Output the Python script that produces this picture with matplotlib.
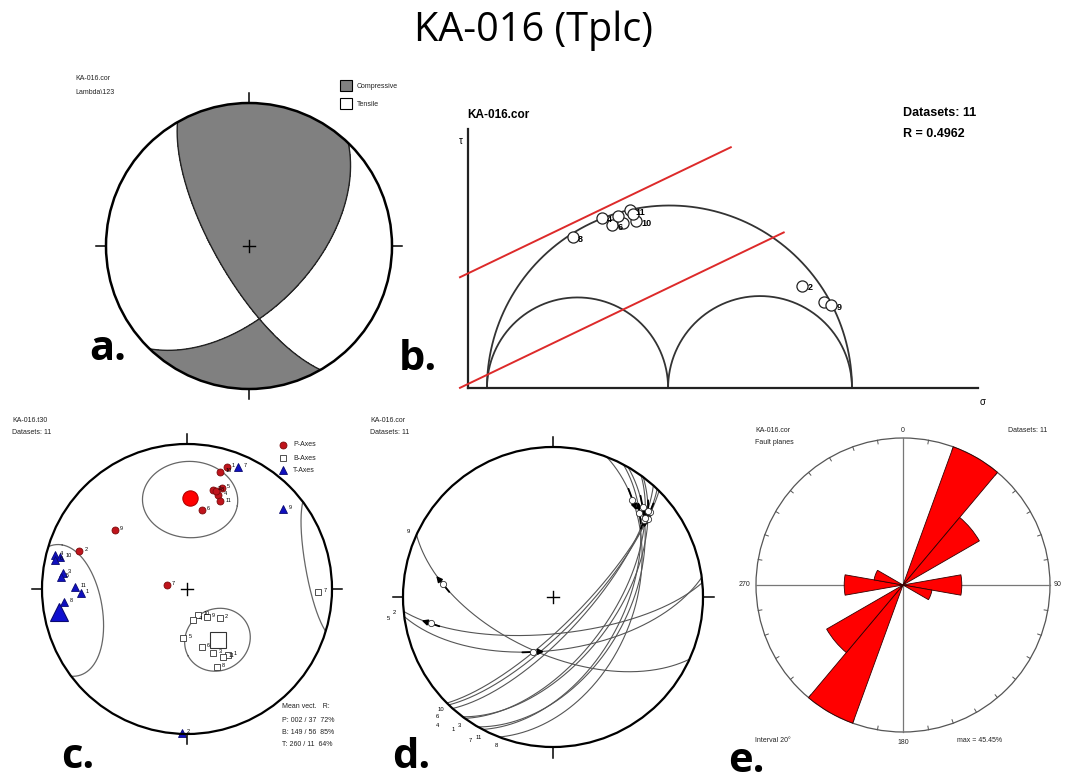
import numpy as np
import matplotlib
matplotlib.use("Agg")
import matplotlib.pyplot as plt
from matplotlib.patches import Circle, Wedge, Rectangle

W, H = 1066, 781
plt.rcParams['font.family'] = ['Liberation Sans', 'DejaVu Sans']

# a. right dihedra: nodal planes (dip direction / dip)
nodal_dipdir = [240, 134]
nodal_dip = [71, 54]

# b. Mohr circle (normalised stresses) and points of the fault planes
sigma_3, stress_ratio, sigma_1 = 0.052, 0.4962, 1.052
mohr_sigma = [0.288, 0.366, 0.395, 0.425, 0.444, 0.460, 0.410, 0.452, 0.916, 0.975, 0.995]
mohr_tau = [0.414, 0.467, 0.447, 0.452, 0.488, 0.458, 0.470, 0.478, 0.280, 0.236, 0.227]
mohr_labels = ['8', '4', '6', '', '11', '10', '', '', '2', '', '9']
friction = 0.48
envelope_cohesion = [0.314, 0.011]
envelope_end = [0.72, 0.865]

# c. P, B, T axes (trend / plunge)
p_trend = [18.0, 15.8, 14.5, 19.0, 18.4, 20.7, 16.4, 10.5, 309.3, 289.4, 281.0]
p_plunge = [12.6, 17.2, 30.2, 27.5, 32.2, 35.7, 30.0, 43.9, 36.0, 22.2, 78.4]
p_labels = ['1', '10', '3', '5', '4', '11', '8', '6', '9', '2', '7']
b_trend = [156.4, 131.5, 168.4, 184.2, 165.8, 157.8, 147.9, 152.0, 159.0, 91.1, 144.5]
b_plunge = [74.1, 65.1, 72.3, 62.1, 56.3, 50.4, 45.4, 45.6, 42.2, 10.3, 71.0]
b_labels = ['10', '2', '4', '5', '6', '3', '1', '11', '8', '7', '9']
t_trend = [284.4, 284.3, 282.4, 277.2, 275.6, 271.2, 267.7, 264.1, 50.4, 22.8, 182.1]
t_plunge = [6.7, 10.7, 7.6, 14.7, 13.5, 23.8, 27.4, 16.0, 14.8, 9.5, 1.0]
t_labels = ['4', '10', '6', '3', '5', '11', '1', '8', '9', '7', '2']
axis_names = ['P', 'B', 'T']
mean_trend = [2, 149, 260]
mean_plunge = [37, 56, 11]
mean_R = [72, 85, 64]
cone_angle = [24, 18, 29]

# d. fault planes (right-hand strike / dip) with striae (rake from strike)
fault_labels = ['10', '6', '4', '3', '1', '11', '7', '8', '2', '5', '9']
fault_strike = [45, 44, 42, 36, 37, 28, 30, 21, 84.5, 82.5, 114.5]
fault_dip = [75, 73, 71, 58, 56, 51, 49, 45, 70, 61, 59]
fault_rake = [20, 16, 23, 24, 19, 27, 22, 25, 161, 104, 148]
fault_sense = [1, 1, -1, 1, 1, -1, 1, 1, 1, -1, 1]

# e. rose of strikes
rose_interval = 20


def sind(a):
    return np.sin(np.radians(a))


def cosd(a):
    return np.cos(np.radians(a))


def line_vec(trend, plunge):
    t, p = np.radians(trend), np.radians(plunge)
    return np.stack([np.cos(p) * np.sin(t), np.cos(p) * np.cos(t), -np.sin(p)], axis=-1)


def project(v):
    # lower hemisphere equal-area (Schmidt) projection
    v = np.array(v, float)
    v = np.where(v[..., 2:3] > 0, -v, v)
    s = np.sqrt(1 - v[..., 2])
    return v[..., 0] / s, v[..., 1] / s


def plane_vectors(strike, dip):
    s = np.array([sind(strike), cosd(strike), 0.0])
    d = np.array([cosd(dip) * sind(strike + 90), cosd(dip) * cosd(strike + 90), -sind(dip)])
    return s, d


def great_circle(strike, dip, n=200):
    s, d = plane_vectors(strike, dip)
    phi = np.linspace(0, np.pi, n)
    v = np.outer(np.cos(phi), s) + np.outer(np.sin(phi), d)
    return project(v)


def small_circle(trend, plunge, alpha, n=400):
    a = line_vec(trend, plunge)
    u = np.cross(a, [0, 0, 1.0])
    u /= np.linalg.norm(u)
    w = np.cross(a, u)
    t = np.linspace(0, 2 * np.pi, n)
    v = cosd(alpha) * a + sind(alpha) * (np.outer(np.cos(t), u) + np.outer(np.sin(t), w))
    up = v[:, 2] > 0
    x, y = project(v)
    cut = np.where(np.diff(up))[0] + 1
    return np.insert(x, cut, np.nan), np.insert(y, cut, np.nan)


fig = plt.figure(figsize=(W / 100, H / 100), dpi=100)
bg = fig.add_axes([0, 0, 1, 1])
bg.set_xlim(0, W)
bg.set_ylim(H, 0)
bg.axis('off')


def unit_axes(ox, oy, scale, x0, x1, y0, y1):
    ax = fig.add_axes([(ox + x0 * scale) / W, 1 - (oy - y0 * scale) / H,
                       (x1 - x0) * scale / W, (y1 - y0) * scale / H])
    ax.set_xlim(x0, x1)
    ax.set_ylim(y0, y1)
    ax.axis('off')
    return ax


def stereo_axes(cx, cy, R, ext=1.25):
    return unit_axes(cx, cy, R, -ext, ext, -ext, ext)


def stereo_frame(ax, lw=1.6, cross=True):
    ax.add_patch(Circle((0, 0), 1, fill=False, lw=lw, ec='k', zorder=6))
    for a in (0, 90, 180, 270):
        ax.plot([sind(a), 1.07 * sind(a)], [cosd(a), 1.07 * cosd(a)], color='k', lw=1.1, zorder=6)
    if cross:
        ax.plot([-0.04, 0.04], [0, 0], color='k', lw=1.0, zorder=6)
        ax.plot([0, 0], [-0.04, 0.04], color='k', lw=1.0, zorder=6)


small = dict(fontsize=5, va='center', color='#222222')

bg.text(534, 31, 'KA-016 (Tplc)', fontsize=28.5, ha='center', va='center',
        family=['Open Sans', 'DejaVu Sans'])
for lab, x, y in [('a.', 108, 350), ('b.', 418, 360), ('c.', 78, 757), ('d.', 411, 757), ('e.', 746, 762)]:
    bg.text(x, y, lab, fontsize=30, fontweight='bold', ha='center', va='center',
            family=['Open Sans', 'DejaVu Sans'])

# ---------------- a. right dihedra ----------------
axa = stereo_axes(249, 246, 143)
g = np.linspace(-1.0, 1.0, 701)
X, Y = np.meshgrid(g, g)
r2 = X ** 2 + Y ** 2
k = np.sqrt(np.clip(2 - r2, 0, None))
V = np.stack([X * k, Y * k, r2 - 1], axis=-1)
field = np.ones_like(X)
for dd, dp in zip(nodal_dipdir, nodal_dip):
    n = np.array([sind(dp) * sind(dd), sind(dp) * cosd(dd), cosd(dp)])
    field = field * (V @ n)
field[r2 > 1] = np.nan
cs = axa.contourf(X, Y, field, levels=[-10, 0, 10], colors=['white', '#808080'])
cs.set_clip_path(Circle((0, 0), 1, transform=axa.transData))
for dd, dp in zip(nodal_dipdir, nodal_dip):
    x, y = great_circle(dd - 90, dp)
    axa.plot(x, y, color='#222222', lw=1.0)
stereo_frame(axa, lw=1.8)
bg.text(75, 78, 'KA-016.cor', **small)
bg.text(75, 92, 'Lambda\\123', **small)
bg.add_patch(Rectangle((340, 80), 12, 11, fc='#808080', ec='k', lw=0.8))
bg.add_patch(Rectangle((340, 98), 12, 11, fc='white', ec='k', lw=0.8))
bg.text(357, 86, 'Compressive', **small)
bg.text(357, 104, 'Tensile', **small)

# ---------------- b. Mohr circle ----------------
axb = unit_axes(468, 388, 365, -0.1, 1.45, -0.08, 0.76)
sigma_2 = sigma_3 + stress_ratio * (sigma_1 - sigma_3)
th = np.linspace(0, np.pi, 300)
for lo, hi in [(sigma_3, sigma_1), (sigma_3, sigma_2), (sigma_2, sigma_1)]:
    c, rad = (lo + hi) / 2, (hi - lo) / 2
    axb.plot(c + rad * np.cos(th), rad * np.sin(th), color='#333333', lw=1.3)
axb.plot([0, 0], [0, 0.71], color='#222222', lw=1.6)
axb.plot([0, 1.397], [0, 0], color='#222222', lw=1.6)
for c0, s_end in zip(envelope_cohesion, envelope_end):
    s = np.array([-0.022, s_end])
    axb.plot(s, friction * s + c0, color='#dd2a2a', lw=1.4)
axb.plot(mohr_sigma, mohr_tau, 'o', ms=8, mfc='white', mec='#222222', mew=0.9)
for s, t, lab in zip(mohr_sigma, mohr_tau, mohr_labels):
    axb.text(s + 0.014, t - 0.006, lab, fontsize=6.5, fontweight='bold', va='center')
bg.text(467, 115, 'KA-016.cor', fontsize=8.5, fontweight='bold', va='center')
bg.text(903, 113, 'Datasets: 11', fontsize=9, fontweight='bold', va='center')
bg.text(903, 134, 'R = %.4f' % stress_ratio, fontsize=9, fontweight='bold', va='center')
bg.text(461, 141, '\u03c4', fontsize=7, va='center', ha='center')
bg.text(983, 402, '\u03c3', fontsize=7, va='center', ha='center')

# ---------------- c. P B T axes ----------------
axc = stereo_axes(187, 589, 145)
styles = [dict(marker='o', mfc='#c0141c', mec='#7a0a0a', ms=5),
          dict(marker='s', mfc='white', mec='#333333', ms=5),
          dict(marker='^', mfc='#1010c0', mec='#0a0a70', ms=6)]
big = [dict(marker='o', mfc='#ff0000', mec='#b00000', ms=11),
       dict(marker='s', mfc='white', mec='#333333', ms=11),
       dict(marker='^', mfc='#1010d0', mec='#0a0a70', ms=13)]
for tr, pl, labs, st in zip([p_trend, b_trend, t_trend], [p_plunge, b_plunge, t_plunge],
                            [p_labels, b_labels, t_labels], styles):
    x, y = project(line_vec(np.array(tr), np.array(pl)))
    axc.plot(x, y, ls='none', mew=0.6, zorder=4, **st)
    for xi, yi, lab in zip(x, y, labs):
        axc.text(xi + 0.035, yi + 0.01, lab, fontsize=4, va='center', zorder=4)
for i in range(3):
    x, y = project(line_vec(mean_trend[i], mean_plunge[i]))
    axc.plot(x, y, ls='none', mew=0.8, zorder=5, **big[i])
    cx, cy = small_circle(mean_trend[i], mean_plunge[i], cone_angle[i])
    axc.plot(cx, cy, color='#666666', lw=0.9, zorder=3)
stereo_frame(axc)
bg.text(12, 421, 'KA-016.t30', **small)
bg.text(12, 433, 'Datasets: 11', **small)
for i, (nm, y) in enumerate(zip(axis_names, [445, 458, 470])):
    bg.plot(283, y, ls='none', mew=0.6, **styles[i])
    bg.text(293, y, nm + '-Axes', **small)
bg.text(282, 707, 'Mean vect.   R:', **small)
for i in range(3):
    bg.text(282, 720 + 12.5 * i, '%s: %03d / %02d  %d%%' % (axis_names[i], mean_trend[i],
                                                         mean_plunge[i], mean_R[i]), **small)

# ---------------- d. fault planes with striae ----------------
axd = stereo_axes(553, 597, 150)
used = []
for lab, stk, dp, rk, sn in zip(fault_labels, fault_strike, fault_dip, fault_rake, fault_sense):
    x, y = great_circle(stk, dp)
    axd.plot(x, y, color='#555555', lw=0.8)
    s, d = plane_vectors(stk, dp)
    v = cosd(rk) * s + sind(rk) * d
    n = np.cross(s, d)
    t = np.cross(n, v)
    t /= np.linalg.norm(t)
    p0 = project(v - 0.10 * t * sn)
    p1 = project(v + 0.10 * t * sn)
    axd.annotate('', xy=p1, xytext=p0,
                 arrowprops=dict(arrowstyle='-|>', color='k', lw=1.3, mutation_scale=8,
                                 shrinkA=0, shrinkB=0), zorder=5)
    px, py = project(v)
    axd.plot(px, py, 'o', ms=4.5, mfc='white', mec='#333333', mew=0.6, zorder=6)
    # stack labels of planes ending at nearly the same azimuth
    az = stk + 180
    rr = 1.06 + 0.045 * sum(abs(az - u) < 4 for u in used)
    used.append(az)
    axd.text(rr * sind(az), rr * cosd(az), lab, fontsize=4.2, ha='center', va='center')
stereo_frame(axd)
bg.text(370, 420, 'KA-016.cor', **small)
bg.text(370, 433, 'Datasets: 11', **small)

# ---------------- e. rose diagram ----------------
axe = stereo_axes(903, 585, 147)
strikes = np.mod(fault_strike, 180)
counts, edges = np.histogram(strikes, bins=np.arange(0, 181, rose_interval))
pct = counts / len(fault_strike) * 100
rmax = pct.max()
axe.add_patch(Circle((0, 0), 1, fill=False, lw=0.9, ec='#555555'))
for a in range(0, 360, 10):
    axe.plot([0.975 * sind(a), sind(a)], [0.975 * cosd(a), cosd(a)], color='#555555', lw=0.7)
axe.plot([0, 0], [-1, 1], color='#777777', lw=0.9)
axe.plot([-1, 1], [0, 0], color='#777777', lw=0.9)
for a0, a1, p in zip(edges[:-1], edges[1:], pct):
    if p == 0:
        continue
    for off in (0, 180):
        axe.add_patch(Wedge((0, 0), p / rmax, 90 - (a1 + off), 90 - (a0 + off),
                            fc='#ff0000', ec='#330000', lw=0.6, zorder=4))
bg.text(755, 430, 'KA-016.cor', **small)
bg.text(755, 443, 'Fault planes', **small)
bg.text(1008, 430, 'Datasets: 11', **small)
bg.text(903, 430, '0', ha='center', **small)
bg.text(1058, 585, '90', ha='center', **small)
bg.text(744, 585, '270', ha='center', **small)
bg.text(903, 742, '180', ha='center', **small)
bg.text(755, 740, 'Interval %d\u00b0' % rose_interval, **small)
bg.text(957, 740, 'max = %.2f%%' % rmax, **small)

fig.savefig('out.png', dpi=100)
